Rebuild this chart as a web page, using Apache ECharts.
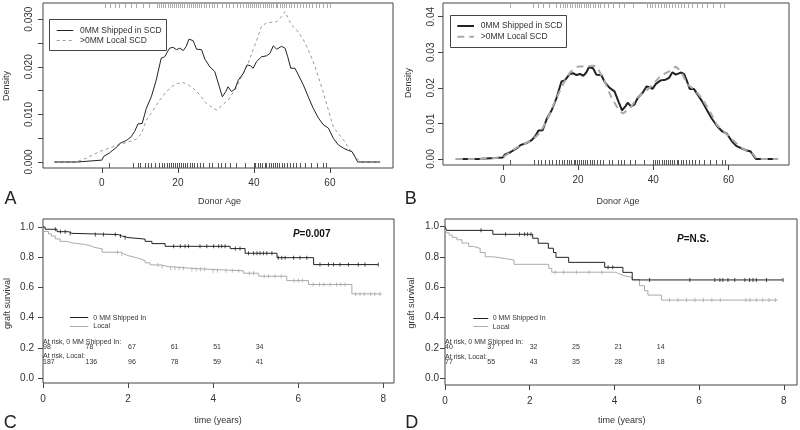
<!DOCTYPE html>
<html><head><meta charset="utf-8">
<script src="https://cdn.jsdelivr.net/npm/echarts@6/dist/echarts.min.js"></script>
<style>html,body{margin:0;padding:0;background:#fff}#c{width:800px;height:430px}</style>
</head><body><div id="c"></div>
<script>
const FONT = '"Liberation Sans", Arial, Helvetica, sans-serif';

// ---------- Panel A / B: density curves ----------
const shipAges = [-12.5, -6.5, -6, 0, 0.5, 1, 2, 2.9, 4, 4.7, 5.5, 6.4, 7.7, 8.6, 9.5, 10.6, 11.7, 13, 14.3, 15.6, 16.5, 17.8, 18.7, 19.6, 20.5, 21.4, 22.2, 22.9, 24, 24.9, 26.2, 27.1, 28.4, 29.7, 30.9, 31.7, 32.6, 33.2, 34.1, 35, 35.9, 37.2, 38.2, 39.1, 39.8, 40.7, 42, 43.3, 44.2, 45.1, 46, 47.3, 48.2, 48.9, 49.7, 50.8, 51.7, 53, 54.3, 55.6, 57, 58.3, 59.6, 60.9, 62.2, 63.6, 64.9, 65.8, 66.6, 67.3, 73.2];
const shipDensity = [0, 0, 0.0004, 0.0004, 0.0012, 0.0016, 0.0019, 0.0025, 0.0032, 0.0039, 0.0042, 0.0045, 0.0053, 0.0064, 0.008, 0.0081, 0.0113, 0.0137, 0.0172, 0.0218, 0.0221, 0.0239, 0.0241, 0.0236, 0.0239, 0.0234, 0.0243, 0.0258, 0.0255, 0.0237, 0.0236, 0.0216, 0.02, 0.019, 0.0158, 0.0137, 0.0148, 0.0158, 0.0148, 0.0153, 0.0172, 0.0186, 0.0204, 0.0202, 0.0197, 0.0211, 0.0221, 0.0223, 0.0228, 0.0244, 0.0237, 0.0243, 0.0239, 0.0221, 0.0197, 0.0197, 0.0183, 0.0162, 0.0137, 0.0113, 0.0092, 0.0078, 0.0071, 0.005, 0.0036, 0.0029, 0.0024, 0.0022, 0.0011, 0, 0];

const localAgesA = [-12.5, -6.8, -4.1, -0.6, 2.9, 6.4, 9.1, 10.4, 11.7, 13.5, 15.2, 17, 18.7, 20, 21.4, 22.7, 24, 25.8, 27.5, 29.3, 30.2, 31.5, 33.2, 35, 36.3, 38.1, 39.8, 41.1, 42, 43.3, 46, 47.3, 48.2, 49, 49.9, 51.2, 53, 54.3, 56.1, 57.8, 59.6, 60.9, 61.8, 63.6, 65.3, 67.1, 68, 73.2];
const localDensityA = [0, 0, 0.0008, 0.0022, 0.0032, 0.0041, 0.0048, 0.006, 0.0088, 0.0109, 0.013, 0.0148, 0.016, 0.0165, 0.0167, 0.0162, 0.0155, 0.0141, 0.0123, 0.0113, 0.0109, 0.0118, 0.013, 0.0151, 0.0172, 0.02, 0.0236, 0.0264, 0.0285, 0.0292, 0.0295, 0.0306, 0.0316, 0.0302, 0.0288, 0.0278, 0.0257, 0.0236, 0.02, 0.0158, 0.0109, 0.0074, 0.0064, 0.0046, 0.0025, 0.0008, 0, 0];

const localAgesB = [-12.5, -6.5, -6, 0, 2, 4, 6, 8, 10, 12, 14, 16, 18, 20, 22, 24, 25, 27, 29, 31, 32, 34, 36, 38, 40, 42, 44, 46, 47.5, 49, 51, 53, 55, 57, 59, 61, 63, 65, 66.5, 67.5, 73.2];
const localDensityB = [0, 0, 0.0004, 0.0004, 0.002, 0.0034, 0.0044, 0.0055, 0.0075, 0.0115, 0.0165, 0.021, 0.0245, 0.026, 0.026, 0.0262, 0.026, 0.022, 0.017, 0.0135, 0.0128, 0.0145, 0.0175, 0.019, 0.021, 0.0235, 0.0245, 0.026, 0.0245, 0.021, 0.0195, 0.017, 0.0135, 0.0095, 0.0075, 0.0055, 0.0035, 0.0022, 0.0015, 0, 0];

// rug marks (donor ages)
const rugShipped = [1.9, 8.2, 9.4, 10.1, 11.3, 12.2, 13, 14.1, 15, 15.8, 16.4, 17.1, 17.6, 18.2, 18.8, 19.3, 19.7, 20.2, 20.8, 21.3, 21.9, 22.4, 23.1, 23.6, 24.3, 25.1, 25.9, 26.6, 28.2, 29.1, 30.6, 31.4, 32.3, 33.7, 35.2, 37.6, 39.9, 40.4, 41.1, 41.6, 42.2, 42.8, 43.3, 43.9, 44.4, 45.1, 45.6, 46.2, 46.7, 47.3, 47.8, 48.6, 49.4, 50.3, 51.2, 52.1, 53.4, 55.1, 56.6, 58.3, 59.1];
const rugLocalA = [0.7, 2.1, 3.4, 4.5, 6.2, 7.7, 9.1, 10.9, 12.3, 14.4, 15.1, 15.6, 16.2, 16.7, 17.3, 17.8, 18.4, 18.9, 19.4, 20.1, 20.6, 21.2, 21.7, 22.3, 22.8, 23.4, 23.9, 24.5, 25.1, 25.6, 26.2, 26.8, 27.5, 28.1, 28.9, 29.6, 30.4, 31.7, 32.6, 33.4, 34.5, 35.6, 36.3, 37.1, 37.8, 38.4, 38.9, 39.5, 40.1, 40.6, 41.2, 41.7, 42.3, 42.9, 43.4, 44, 44.5, 45.1, 45.7, 46.2, 46.8, 47.3, 47.9, 48.5, 49.2, 49.8, 50.6, 51.3, 52.1, 52.8, 53.7, 54.5, 55.4, 56.3, 57.2, 58.1, 59.2, 60.1];
const rugLocalB = [1.9, 8.1, 9.3, 10.7, 12.4, 14.2, 15.3, 15.9, 16.6, 17.2, 17.9, 18.5, 19.1, 19.6, 20.2, 20.9, 21.5, 22, 22.6, 23.3, 23.9, 24.6, 25.3, 25.9, 26.8, 28.1, 29.4, 30.8, 32.2, 34.6, 38.3, 39.1, 39.8, 40.6, 41.3, 42.1, 42.8, 43.5, 44.3, 45, 45.8, 46.6, 47.3, 48.1, 49.2, 50.4, 51.6, 52.9, 54.2, 55.8, 57.7, 58.9];

const ageTicks = [0, 20, 40, 60];
const densTicksA = [0, 0.005, 0.01, 0.015, 0.02, 0.025, 0.03];
const densLabelsA = [0, 0.01, 0.02, 0.03];
const densTicksB = [0, 0.01, 0.02, 0.03, 0.04];

// ---------- Panel C / D: Kaplan-Meier ----------
const shipTimesC = [0, 0.05, 0.33, 0.6, 0.68, 1.77, 1.86, 2.0, 2.4, 2.56, 2.87, 4.4, 4.75, 5.5, 6.36, 7.88];
const shipSurvC  = [1, 0.985, 0.969, 0.958, 0.95, 0.94, 0.93, 0.92, 0.905, 0.89, 0.872, 0.857, 0.826, 0.797, 0.751, 0.751];
const localTimesC = [0, 0.02, 0.13, 0.2, 0.29, 0.4, 0.56, 0.7, 0.95, 1.1, 1.2, 1.39, 1.82, 1.9, 2.01, 2.15, 2.29, 2.4, 2.52, 2.75, 2.95, 3.45, 3.9, 4.71, 5.07, 5.73, 6.24, 7.26, 7.96];
const localSurvC  = [1, 0.97, 0.954, 0.94, 0.921, 0.905, 0.894, 0.886, 0.877, 0.866, 0.855, 0.833, 0.822, 0.81, 0.80, 0.789, 0.777, 0.763, 0.749, 0.738, 0.727, 0.72, 0.71, 0.694, 0.674, 0.645, 0.619, 0.557, 0.557];
const shipCensorC = [0.29, 0.41, 0.52, 0.64, 1.23, 1.42, 1.7, 1.82, 1.93, 3.07, 3.23, 3.34, 3.42, 3.69, 3.85, 4.01, 4.13, 4.2, 4.28, 4.52, 4.63, 4.83, 4.95, 5.03, 5.1, 5.18, 5.26, 5.38, 5.53, 5.61, 5.69, 5.89, 6.04, 6.2, 6.51, 6.71, 6.83, 6.98, 7.18, 7.41, 7.57, 7.88];
const localCensorC = [1.75, 1.85, 2.7, 2.8, 3.0, 3.1, 3.2, 3.3, 3.5, 3.6, 3.7, 3.8, 4.0, 4.1, 4.3, 4.45, 4.6, 4.85, 4.95, 5.2, 5.3, 5.45, 5.6, 5.9, 6.0, 6.1, 6.35, 6.5, 6.6, 6.75, 6.9, 7.0, 7.1, 7.35, 7.45, 7.55, 7.7, 7.8, 7.92];

const shipTimesD = [0, 0.04, 1.13, 2.07, 2.2, 2.44, 2.56, 2.62, 2.92, 3.77, 4.2, 4.42, 7.98];
const shipSurvD  = [1, 0.976, 0.95, 0.924, 0.891, 0.858, 0.83, 0.798, 0.765, 0.732, 0.699, 0.649, 0.649];
const localTimesD = [0, 0.03, 0.1, 0.17, 0.28, 0.4, 0.56, 0.67, 0.83, 0.95, 1.13, 1.4, 1.63, 2.45, 2.52, 4.04, 4.12, 4.24, 4.42, 4.59, 4.71, 4.79, 5.11, 7.86];
const localSurvD  = [1, 0.96, 0.945, 0.93, 0.914, 0.892, 0.87, 0.857, 0.83, 0.802, 0.791, 0.78, 0.752, 0.725, 0.70, 0.688, 0.676, 0.666, 0.652, 0.611, 0.578, 0.549, 0.516, 0.516];
const shipCensorD = [0.85, 1.43, 1.76, 1.88, 1.95, 2.03, 3.85, 3.96, 4.83, 5.78, 6.37, 6.49, 6.56, 6.68, 6.84, 7.08, 7.19, 7.27, 7.35, 7.59, 7.98];
const localCensorD = [2.6, 2.8, 3.1, 3.4, 3.7, 5.3, 5.5, 5.7, 5.9, 6.1, 6.3, 6.5, 7.1, 7.2, 7.35, 7.5, 7.65, 7.8];

const riskTimes = [0, 1, 2, 3, 4, 5];
const riskShipC = [98, 78, 67, 61, 51, 34];
const riskLocalC = [187, 136, 96, 78, 59, 41];
const riskShipD = [40, 37, 32, 25, 21, 14];
const riskLocalD = [77, 55, 43, 35, 28, 18];

const timeTicks = [0, 2, 4, 6, 8];
const survTicks = [0, 0.2, 0.4, 0.6, 0.8, 1.0];

// ---------- helpers ----------
const pairs = (xs, ys) => xs.map((x, i) => [x, ys[i]]);
function stepAt(ts, ss, t) { let v = ss[0]; for (let i = 0; i < ts.length; i++) { if (ts[i] <= t) v = ss[i]; } return v; }

const DARK = '#222';
const GRAY = '#aaa';
const BOX = '#444';
const TXT = '#333';

function rug(idx, ages, color, side) {
  return {
    type: 'custom', xAxisIndex: idx, yAxisIndex: idx, silent: true,
    data: ages.map(a => [a, 0]), encode: { x: 0, y: 1 },
    renderItem: (params, api) => {
      const x = Math.round(api.coord([api.value(0), 0])[0]) + 0.5;
      const cs = params.coordSys;
      const y0 = side === 'bottom' ? cs.y + cs.height : cs.y;
      const y1 = side === 'bottom' ? y0 - 5 : y0 + 5;
      return { type: 'line', shape: { x1: x, y1: y0, x2: x, y2: y1 }, style: { stroke: color, lineWidth: 1 } };
    }
  };
}
function censor(idx, times, ts, ss, color) {
  return {
    type: 'scatter', xAxisIndex: idx, yAxisIndex: idx, silent: true,
    symbol: 'rect', symbolSize: [1, 4],
    itemStyle: { color: color },
    data: times.map(t => [t, stepAt(ts, ss, t)])
  };
}
function kmLine(idx, ts, ss, color) {
  return {
    type: 'line', xAxisIndex: idx, yAxisIndex: idx, silent: true, step: 'end',
    symbol: 'none', lineStyle: { color: color, width: 1 },
    data: pairs(ts, ss)
  };
}
function riskSeries(idx, shipNums, localNums) {
  const items = [];
  items.push([0, 0.238, 'At risk, 0 MM Shipped In:']);
  riskTimes.forEach((t, i) => items.push([t, 0.203, String(shipNums[i])]));
  items.push([0, 0.143, 'At risk, Local:']);
  riskTimes.forEach((t, i) => items.push([t, 0.106, String(localNums[i])]));
  return {
    type: 'custom', xAxisIndex: idx, yAxisIndex: idx, silent: true,
    data: items.map(d => [d[0], d[1]]), encode: { x: 0, y: 1 },
    renderItem: (params, api) => {
      const p = api.coord([api.value(0), api.value(1)]);
      return { type: 'text', x: p[0], y: p[1], style: { text: items[params.dataIndex][2], font: '7px ' + FONT, fill: TXT, align: 'left', verticalAlign: 'middle' } };
    }
  };
}

const grids = [
  { left: 43, top: 3, width: 350, height: 165 },
  { left: 443, top: 3, width: 346, height: 162 },
  { left: 43, top: 219, width: 351, height: 164 },
  { left: 445, top: 219, width: 352, height: 166 }
].map(g => Object.assign({ show: true, borderColor: BOX, borderWidth: 1, backgroundColor: 'transparent' }, g));

function xAxis(idx, min, max, ticks, margin) {
  return {
    type: 'value', gridIndex: idx, min: min, max: max, position: 'bottom',
    axisLine: { show: false, onZero: false }, splitLine: { show: false },
    axisTick: { show: true, inside: false, length: 5, lineStyle: { color: BOX }, customValues: ticks },
    axisLabel: { show: true, customValues: ticks, margin: margin, fontFamily: FONT, fontSize: 10, color: TXT, showMinLabel: true, showMaxLabel: true }
  };
}
function yAxis(idx, min, max, ticks, labels, fmt, rotate, margin) {
  return {
    type: 'value', gridIndex: idx, min: min, max: max, position: 'left',
    axisLine: { show: false, onZero: false }, splitLine: { show: false },
    axisTick: { show: true, inside: false, length: 5, lineStyle: { color: BOX }, customValues: ticks },
    axisLabel: { show: true, customValues: labels, rotate: rotate, margin: margin, fontFamily: FONT, fontSize: 10, color: TXT, formatter: fmt, showMinLabel: true, showMaxLabel: true }
  };
}

const option = {
  animation: false,
  backgroundColor: '#fff',
  grid: grids,
  xAxis: [
    xAxis(0, -15.5, 76.6, ageTicks, 10),
    xAxis(1, -15.9, 76.1, ageTicks, 10),
    xAxis(2, 0, 8.25, timeTicks, 11),
    xAxis(3, 0, 8.31, timeTicks, 11)
  ],
  yAxis: [
    yAxis(0, -0.00126, 0.0334, densTicksA, densLabelsA, v => v.toFixed(3), 90, 9),
    yAxis(1, -0.00169, 0.04385, densTicksB, densTicksB, v => v.toFixed(2), 90, 7),
    yAxis(2, -0.033, 1.053, survTicks, survTicks, v => v.toFixed(1), 0, 9),
    yAxis(3, -0.044, 1.051, survTicks, survTicks, v => v.toFixed(1), 0, 6)
  ],
  series: [
    // A
    { type: 'line', xAxisIndex: 0, yAxisIndex: 0, silent: true, symbol: 'none', lineStyle: { color: '#999', width: 1, type: [3, 3] }, data: pairs(localAgesA, localDensityA) },
    { type: 'line', xAxisIndex: 0, yAxisIndex: 0, silent: true, symbol: 'none', lineStyle: { color: DARK, width: 1 }, data: pairs(shipAges, shipDensity) },
    rug(0, rugShipped, '#555', 'bottom'),
    rug(0, rugLocalA, '#aaa', 'top'),
    // B
    { type: 'line', xAxisIndex: 1, yAxisIndex: 1, silent: true, symbol: 'none', lineStyle: { color: DARK, width: 2 }, data: pairs(shipAges, shipDensity) },
    { type: 'line', xAxisIndex: 1, yAxisIndex: 1, silent: true, symbol: 'none', lineStyle: { color: '#aaa', width: 2, type: [7, 5] }, data: pairs(localAgesB, localDensityB) },
    rug(1, rugShipped, '#555', 'bottom'),
    rug(1, rugLocalB, '#aaa', 'top'),
    // C
    kmLine(2, localTimesC, localSurvC, GRAY),
    kmLine(2, shipTimesC, shipSurvC, DARK),
    censor(2, localCensorC, localTimesC, localSurvC, GRAY),
    censor(2, shipCensorC, shipTimesC, shipSurvC, DARK),
    riskSeries(2, riskShipC, riskLocalC),
    // D
    kmLine(3, localTimesD, localSurvD, GRAY),
    kmLine(3, shipTimesD, shipSurvD, DARK),
    censor(3, localCensorD, localTimesD, localSurvD, GRAY),
    censor(3, shipCensorD, shipTimesD, shipSurvD, DARK),
    riskSeries(3, riskShipD, riskLocalD)
  ],
  graphic: [
    // panel letters
    { type: 'text', x: 10.5, y: 199.5, style: { text: 'A', font: '18px ' + FONT, fill: '#222', align: 'center', verticalAlign: 'middle' } },
    { type: 'text', x: 410.8, y: 199.5, style: { text: 'B', font: '18px ' + FONT, fill: '#222', align: 'center', verticalAlign: 'middle' } },
    { type: 'text', x: 10.3, y: 423, style: { text: 'C', font: '18px ' + FONT, fill: '#222', align: 'center', verticalAlign: 'middle' } },
    { type: 'text', x: 411.7, y: 423, style: { text: 'D', font: '18px ' + FONT, fill: '#222', align: 'center', verticalAlign: 'middle' } },
    // axis titles
    { type: 'text', x: 219.5, y: 201.5, style: { text: 'Donor Age', font: '9px ' + FONT, fill: TXT, align: 'center', verticalAlign: 'middle' } },
    { type: 'text', x: 618, y: 201.5, style: { text: 'Donor Age', font: '9px ' + FONT, fill: TXT, align: 'center', verticalAlign: 'middle' } },
    { type: 'text', x: 218, y: 421, style: { text: 'time (years)', font: '9px ' + FONT, fill: TXT, align: 'center', verticalAlign: 'middle' } },
    { type: 'text', x: 621.7, y: 421, style: { text: 'time (years)', font: '9px ' + FONT, fill: TXT, align: 'center', verticalAlign: 'middle' } },
    { type: 'text', x: 7, y: 86, rotation: Math.PI / 2, style: { text: 'Density', font: '9px ' + FONT, fill: TXT, align: 'center', verticalAlign: 'middle' } },
    { type: 'text', x: 408.3, y: 83, rotation: Math.PI / 2, style: { text: 'Density', font: '9px ' + FONT, fill: TXT, align: 'center', verticalAlign: 'middle' } },
    { type: 'text', x: 7.3, y: 303.5, rotation: Math.PI / 2, style: { text: 'graft survival', font: '9px ' + FONT, fill: TXT, align: 'center', verticalAlign: 'middle' } },
    { type: 'text', x: 411.7, y: 303, rotation: Math.PI / 2, style: { text: 'graft survival', font: '9px ' + FONT, fill: TXT, align: 'center', verticalAlign: 'middle' } },
    // legend A
    { type: 'rect', shape: { x: 49.5, y: 19.5, width: 117, height: 31 }, style: { fill: '#fff', stroke: BOX, lineWidth: 1 } },
    { type: 'line', shape: { x1: 56.7, y1: 30.5, x2: 73.3, y2: 30.5 }, style: { stroke: DARK, lineWidth: 1 } },
    { type: 'line', shape: { x1: 56.7, y1: 40.5, x2: 73.3, y2: 40.5 }, style: { stroke: '#999', lineWidth: 1, lineDash: [3, 3] } },
    { type: 'text', x: 80, y: 30.5, style: { text: '0MM Shipped in SCD', font: '8.5px ' + FONT, fill: TXT, align: 'left', verticalAlign: 'middle' } },
    { type: 'text', x: 80, y: 40.7, style: { text: '>0MM Local SCD', font: '8.5px ' + FONT, fill: TXT, align: 'left', verticalAlign: 'middle' } },
    // legend B
    { type: 'rect', shape: { x: 450.5, y: 15.5, width: 116, height: 32 }, style: { fill: '#fff', stroke: BOX, lineWidth: 1 } },
    { type: 'line', shape: { x1: 457.3, y1: 26, x2: 474, y2: 26 }, style: { stroke: DARK, lineWidth: 2 } },
    { type: 'line', shape: { x1: 457.3, y1: 36.7, x2: 474, y2: 36.7 }, style: { stroke: '#aaa', lineWidth: 2, lineDash: [7, 5] } },
    { type: 'text', x: 480.7, y: 26, style: { text: '0MM Shipped in SCD', font: '8.5px ' + FONT, fill: TXT, align: 'left', verticalAlign: 'middle' } },
    { type: 'text', x: 480.7, y: 36.7, style: { text: '>0MM Local SCD', font: '8.5px ' + FONT, fill: TXT, align: 'left', verticalAlign: 'middle' } },
    // legend C
    { type: 'line', shape: { x1: 70, y1: 317.5, x2: 88.3, y2: 317.5 }, style: { stroke: DARK, lineWidth: 1 } },
    { type: 'line', shape: { x1: 70, y1: 326.5, x2: 88.3, y2: 326.5 }, style: { stroke: GRAY, lineWidth: 1 } },
    { type: 'text', x: 93.3, y: 317.7, style: { text: '0 MM Shipped In', font: '7px ' + FONT, fill: TXT, align: 'left', verticalAlign: 'middle' } },
    { type: 'text', x: 93.3, y: 326.2, style: { text: 'Local', font: '7px ' + FONT, fill: TXT, align: 'left', verticalAlign: 'middle' } },
    // legend D
    { type: 'line', shape: { x1: 473.3, y1: 318.5, x2: 488.3, y2: 318.5 }, style: { stroke: DARK, lineWidth: 1 } },
    { type: 'line', shape: { x1: 473.3, y1: 326.5, x2: 488.3, y2: 326.5 }, style: { stroke: GRAY, lineWidth: 1 } },
    { type: 'text', x: 492.7, y: 318.3, style: { text: '0 MM Shipped In', font: '7px ' + FONT, fill: TXT, align: 'left', verticalAlign: 'middle' } },
    { type: 'text', x: 492.7, y: 326.7, style: { text: 'Local', font: '7px ' + FONT, fill: TXT, align: 'left', verticalAlign: 'middle' } },
    // P values
    { type: 'text', x: 311.7, y: 234.3, style: { text: '{i|P}{b|=0.007}', align: 'center', verticalAlign: 'middle', rich: { i: { fontFamily: FONT, fontSize: 10, fontWeight: 'bold', fontStyle: 'italic', fill: '#111' }, b: { fontFamily: FONT, fontSize: 10, fontWeight: 'bold', fill: '#111' } } } },
    { type: 'text', x: 693, y: 239.3, style: { text: '{i|P}{b|=N.S.}', align: 'center', verticalAlign: 'middle', rich: { i: { fontFamily: FONT, fontSize: 10, fontWeight: 'bold', fontStyle: 'italic', fill: '#111' }, b: { fontFamily: FONT, fontSize: 10, fontWeight: 'bold', fill: '#111' } } } }
  ]
};

const chart = echarts.init(document.getElementById('c'), null, { renderer: 'canvas' });
chart.setOption(option);
</script></body></html>
